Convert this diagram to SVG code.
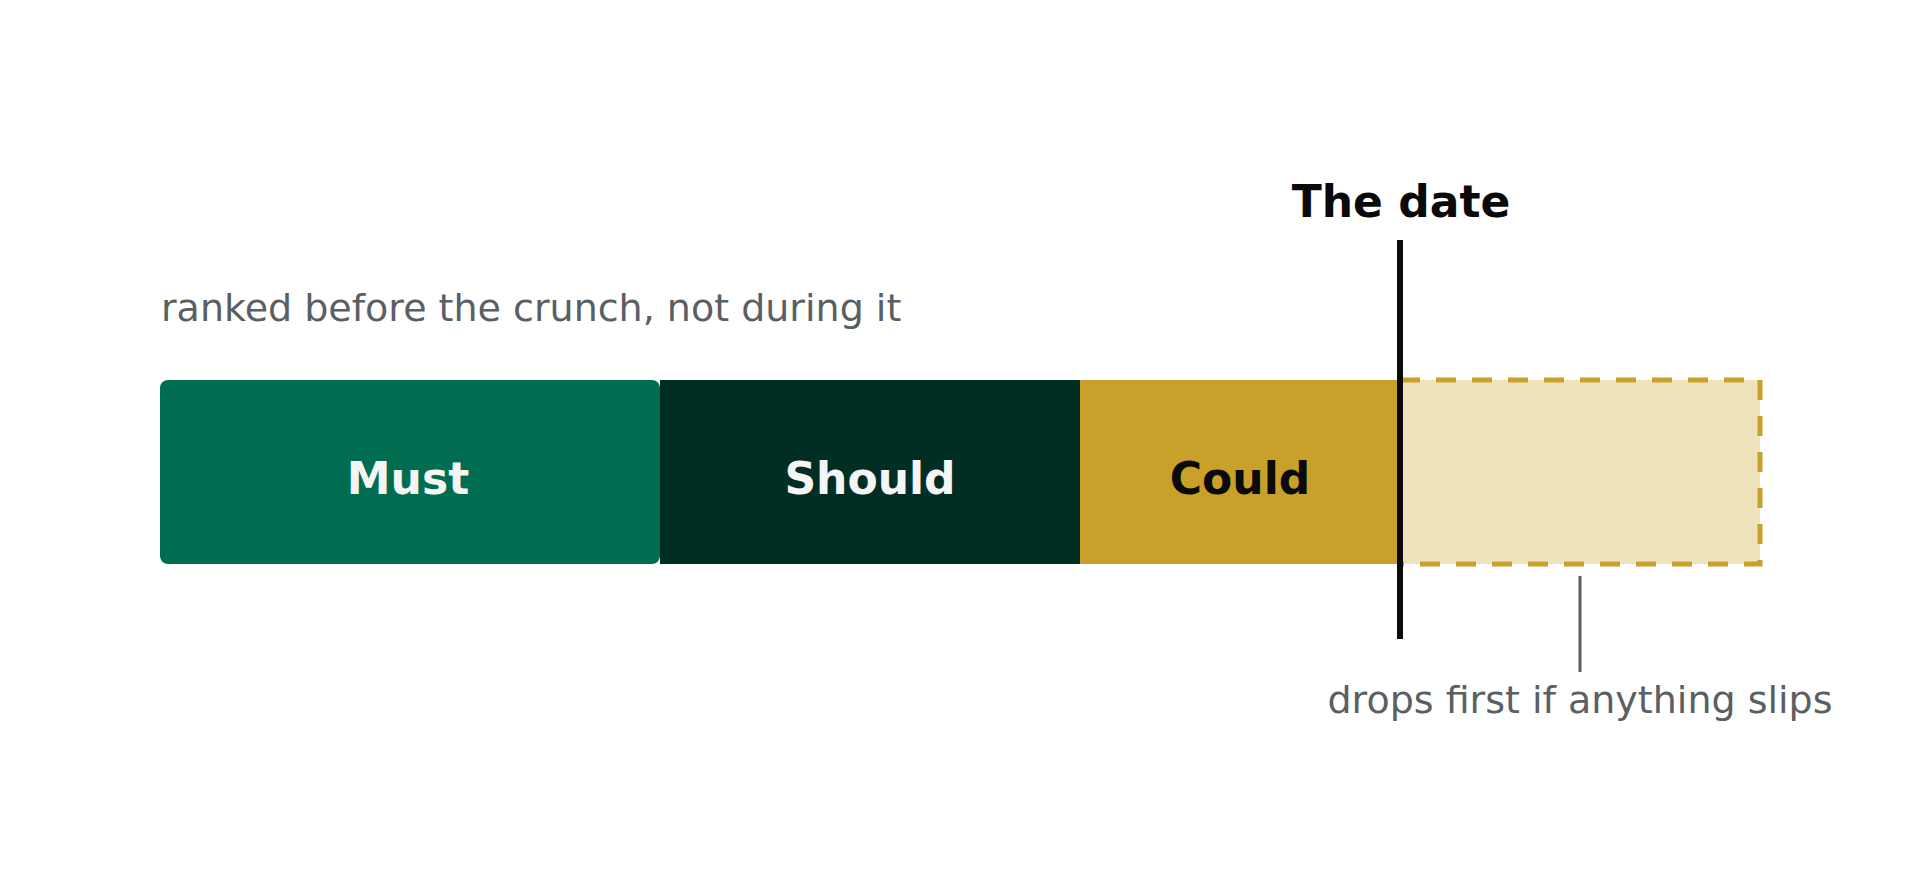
<svg xmlns="http://www.w3.org/2000/svg" width="1920" height="880" viewBox="0 0 1920 880">
<style>
text{font-family:"DejaVu Sans","Liberation Sans",sans-serif;}
.lbl{font-size:44px;font-weight:bold;text-anchor:middle;}
.note{font-size:38px;fill:#5A5F63;}
</style>
<rect width="1920" height="880" fill="#FFFFFF"/>
<g id="title">
<text class="lbl" x="1401" y="217" fill="#0A0A0A">The date</text>
</g>
<g id="caption-top">
<text class="note" x="161" y="321">ranked before the crunch, not during it</text>
</g>
<g id="must">
<rect x="160" y="380" width="500" height="184" rx="8" fill="#006D51"/>
<text class="lbl" x="408" y="494" fill="#F5F5F5">Must</text>
</g>
<g id="should">
<rect x="660" y="380" width="420" height="184" fill="#012E24"/>
<text class="lbl" x="870" y="494" fill="#F5F5F5">Should</text>
</g>
<g id="could">
<rect x="1080" y="380" width="320" height="184" fill="#C9A12A"/>
<text class="lbl" x="1240" y="494" fill="#0A0A0A">Could</text>
</g>
<g id="overflow">
<rect x="1400" y="380" width="360" height="184" fill="#EFE3BC" stroke="#C9A12A" stroke-width="5" stroke-dasharray="20 16"/>
</g>
<g id="connectors">
<line x1="1400" y1="240" x2="1400" y2="639" stroke="#0A0A0A" stroke-width="6"/>
<line x1="1580" y1="576" x2="1580" y2="672" stroke="#5A5F63" stroke-width="3"/>
</g>
<g id="caption-bottom">
<text class="note" x="1580" y="713" text-anchor="middle">drops first if anything slips</text>
</g>
</svg>
